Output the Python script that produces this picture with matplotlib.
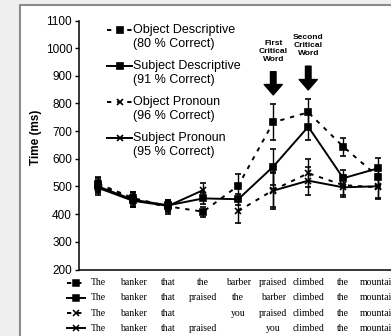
import numpy as np
import matplotlib
matplotlib.use("Agg")
import matplotlib.pyplot as plt
from matplotlib.lines import Line2D
from matplotlib.patches import Rectangle
from matplotlib.legend_handler import HandlerLine2D

plt.rcParams["font.family"] = ["Liberation Sans", "DejaVu Sans"]

# Reading times per word position (ms)
positions = np.arange(9)
nan = np.nan

obj_desc = [510, 458, 428, 409, 503, 732, 768, 644, 535]
obj_desc_err = [25, 22, 18, 18, 42, 65, 50, 33, 35]
subj_desc = [500, 452, 432, 457, 454, 572, 716, 530, 566]
subj_desc_err = [22, 25, 20, 20, 20, 65, 48, 30, 38]
obj_pron = [505, 455, 425, nan, 411, 487, 548, 505, 497]
obj_pron_err = [25, 25, 25, nan, 42, 60, 50, 35, 40]
subj_pron = [495, 448, 430, 487, nan, 485, 521, 497, 501]
subj_pron_err = [25, 22, 22, 25, nan, 68, 50, 35, 45]

labels = ["Object Descriptive\n(80 % Correct)",
          "Subject Descriptive\n(91 % Correct)",
          "Object Pronoun\n(96 % Correct)",
          "Subject Pronoun\n(95 % Correct)"]

sentences = [
    ["The", "banker", "that", "the", "barber", "praised", "climbed", "the", "mountain"],
    ["The", "banker", "that", "praised", "the", "barber", "climbed", "the", "mountain"],
    ["The", "banker", "that", "", "you", "praised", "climbed", "the", "mountain"],
    ["The", "banker", "that", "praised", "", "you", "climbed", "the", "mountain"],
]


class FirstLineHandler(HandlerLine2D):
    # put the legend key next to the first line of a two-line label
    def create_artists(self, legend, orig_handle, xdescent, ydescent, width,
                       height, fontsize, trans):
        arts = super().create_artists(legend, orig_handle, xdescent, ydescent,
                                      width, height, fontsize, trans)
        for a in arts:
            a.set_ydata(np.asarray(a.get_ydata()) + 0.55 * fontsize)
        return arts


fig = plt.figure(figsize=(3.91, 3.36), dpi=100, facecolor="#efefef")
# white panel with grey border
fig.patches.append(Rectangle((20 / 391, -0.1), 1.2, 331 / 336 + 0.1,
                             transform=fig.transFigure, facecolor="white",
                             edgecolor="#8c8c8c", linewidth=1.5, zorder=-10))

ax = fig.add_axes([79 / 391, 66.5 / 336, 340 / 391, 249 / 336])
ax.set_facecolor("none")

styles = [
    (obj_desc, obj_desc_err, "s", (2.2, 3.0)),
    (subj_desc, subj_desc_err, "s", None),
    (obj_pron, obj_pron_err, "x", (2.2, 3.0)),
    (subj_pron, subj_pron_err, "x", None),
]
handles = []
for vals, err, mk, dash in styles:
    cont = ax.errorbar(positions, vals, yerr=err, color="black", marker=mk,
                       markersize=4.5 if mk == "s" else 5, mew=1.2,
                       lw=1.4, elinewidth=1.0, capsize=2.5, capthick=1.0)
    line = cont[0]
    if dash is not None:
        line.set_dashes(dash)
    handles.append(line)

ax.set_xlim(-0.55, -0.55 + 340 / 35)
ax.set_ylim(200, 1100)
ax.set_yticks(np.arange(200, 1101, 100))
ax.tick_params(axis="y", direction="out", length=3, width=1, labelsize=8.5, pad=2)
ax.tick_params(axis="x", length=0, labelbottom=False)
ax.spines["top"].set_visible(False)
ax.spines["right"].set_visible(False)
ax.spines["left"].set_linewidth(1.1)
ax.spines["bottom"].set_linewidth(1.1)
ax.set_ylabel("Time (ms)", fontsize=8.5, fontweight="bold")
ax.yaxis.set_label_coords(-0.108, 0.53)

leg = ax.legend(handles, labels, loc="upper left", bbox_to_anchor=(0.068, 1.005),
                frameon=False, fontsize=9, handlelength=2.0, handletextpad=0.1,
                labelspacing=0.83, borderaxespad=0,
                handler_map={Line2D: FirstLineHandler()})
for t in leg.get_texts():
    t.set_linespacing(1.18)

# critical word arrows
ax.annotate("", xy=(5, 831), xytext=(5, 915),
            arrowprops=dict(arrowstyle="simple,head_width=1.3,head_length=0.75,tail_width=0.4",
                            color="black", shrinkA=0, shrinkB=0))
ax.annotate("", xy=(6, 849), xytext=(6, 935),
            arrowprops=dict(arrowstyle="simple,head_width=1.3,head_length=0.75,tail_width=0.4",
                            color="black", shrinkA=0, shrinkB=0))
ax.text(5, 988, "First\nCritical\nWord", ha="center", va="center",
        fontsize=6, fontweight="bold", linespacing=1.2)
ax.text(6, 1010, "Second\nCritical\nWord", ha="center", va="center",
        fontsize=6, fontweight="bold", linespacing=1.2)

# sentence rows under the axis
trans = ax.get_xaxis_transform()
row_y = [-0.054, -0.114, -0.175, -0.235]
row_keys = [("s", (2.2, 3.0)), ("s", None), ("x", (2.2, 3.0)), ("x", None)]
for words, y, (mk, dash) in zip(sentences, row_y, row_keys):
    for pos, w in zip(positions, words):
        ax.text(pos, y, w, transform=trans, ha="center", va="center",
                fontsize=7, family="Liberation Serif", clip_on=False)
    key = Line2D([-0.89, -0.37], [y, y], transform=trans, color="black",
                 lw=1.4, clip_on=False)
    if dash is not None:
        key.set_dashes(dash)
    ax.add_line(key)
    ax.add_line(Line2D([-0.63], [y], transform=trans, color="black", marker=mk,
                       markersize=4 if mk == "s" else 4.5, mew=1.1, clip_on=False))

fig.savefig("out.png", dpi=100, facecolor=fig.get_facecolor())
